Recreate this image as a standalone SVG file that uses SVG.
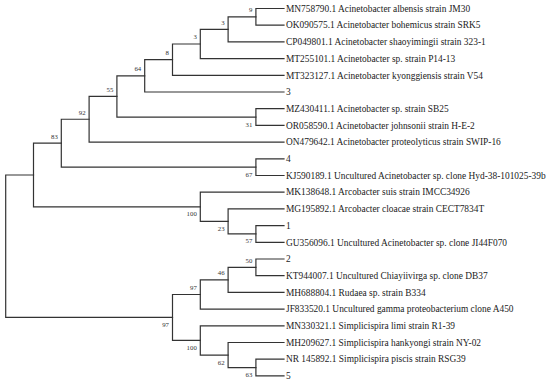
<svg xmlns="http://www.w3.org/2000/svg" width="550" height="384" viewBox="0 0 550 384">
<style>
.br{fill:none;stroke:#333;stroke-width:1.2;stroke-linecap:square}
.lf{font-family:"Liberation Serif","Times New Roman",serif;font-size:9.4px;fill:#222}
.bs{font-family:"Liberation Serif","Times New Roman",serif;font-size:6.8px;fill:#333;text-anchor:end}
</style>
<rect width="550" height="384" fill="#fff"/>
<g id="connectors" class="br">
<path d="M284 8.5 H255.9 V25.2 H284"/>
<path d="M255.9 16.85 H228.1 V41.9 H284"/>
<path d="M228.1 29.38 H200.3 V58.6 H284"/>
<path d="M200.3 43.99 H172.5 V75.3 H284"/>
<path d="M172.5 59.64 H144.7 V92 H284"/>
<path d="M284 108.7 H255.9 V125.4 H284"/>
<path d="M144.7 75.82 H116.9 V117.05 H255.9"/>
<path d="M116.9 96.44 H89.1 V142.1 H284"/>
<path d="M284 158.8 H255.9 V175.5 H284"/>
<path d="M89.1 119.27 H61.3 V167.15 H255.9"/>
<path d="M284 225.6 H255.9 V242.3 H284"/>
<path d="M284 208.9 H228.1 V233.95 H255.9"/>
<path d="M284 192.2 H200.3 V221.43 H228.1"/>
<path d="M61.3 143.21 H33.5 V206.81 H200.3"/>
<path d="M284 259 H255.9 V275.7 H284"/>
<path d="M255.9 267.35 H228.1 V292.4 H284"/>
<path d="M228.1 279.88 H200.3 V309.1 H284"/>
<path d="M284 359.2 H255.9 V375.9 H284"/>
<path d="M284 342.5 H228.1 V367.55 H255.9"/>
<path d="M284 325.8 H200.3 V355.03 H228.1"/>
<path d="M200.3 294.49 H172.5 V340.41 H200.3"/>
<path d="M33.5 175.01 H5.7 V317.45 H172.5"/>
</g>
<g id="leaf-MN758790"><text class="lf" x="286" y="11.7">MN758790.1 Acinetobacter albensis strain JM30</text></g>
<g id="leaf-OK090575"><text class="lf" x="286" y="28.4">OK090575.1 Acinetobacter bohemicus strain SRK5</text></g>
<g id="leaf-CP049801"><text class="lf" x="286" y="45.1">CP049801.1 Acinetobacter shaoyimingii strain 323-1</text></g>
<g id="leaf-MT255101"><text class="lf" x="286" y="61.8">MT255101.1 Acinetobacter sp. strain P14-13</text></g>
<g id="leaf-MT323127"><text class="lf" x="286" y="78.5">MT323127.1 Acinetobacter kyonggiensis strain V54</text></g>
<g id="leaf-3"><text class="lf" x="286" y="95.2">3</text></g>
<g id="leaf-MZ430411"><text class="lf" x="286" y="111.9">MZ430411.1 Acinetobacter sp. strain SB25</text></g>
<g id="leaf-OR058590"><text class="lf" x="286" y="128.6">OR058590.1 Acinetobacter johnsonii strain H-E-2</text></g>
<g id="leaf-ON479642"><text class="lf" x="286" y="145.3">ON479642.1 Acinetobacter proteolyticus strain SWIP-16</text></g>
<g id="leaf-4"><text class="lf" x="286" y="162">4</text></g>
<g id="leaf-KJ590189"><text class="lf" x="286" y="178.7">KJ590189.1 Uncultured Acinetobacter sp. clone Hyd-38-101025-39b</text></g>
<g id="leaf-MK138648"><text class="lf" x="286" y="195.4">MK138648.1 Arcobacter suis strain IMCC34926</text></g>
<g id="leaf-MG195892"><text class="lf" x="286" y="212.1">MG195892.1 Arcobacter cloacae strain CECT7834T</text></g>
<g id="leaf-1"><text class="lf" x="286" y="228.8">1</text></g>
<g id="leaf-GU356096"><text class="lf" x="286" y="245.5">GU356096.1 Uncultured Acinetobacter sp. clone JI44F070</text></g>
<g id="leaf-2"><text class="lf" x="286" y="262.2">2</text></g>
<g id="leaf-KT944007"><text class="lf" x="286" y="278.9">KT944007.1 Uncultured Chiayiivirga sp. clone DB37</text></g>
<g id="leaf-MH688804"><text class="lf" x="286" y="295.6">MH688804.1 Rudaea sp. strain B334</text></g>
<g id="leaf-JF833520"><text class="lf" x="286" y="312.3">JF833520.1 Uncultured gamma proteobacterium clone A450</text></g>
<g id="leaf-MN330321"><text class="lf" x="286" y="329">MN330321.1 Simplicispira limi strain R1-39</text></g>
<g id="leaf-MH209627"><text class="lf" x="286" y="345.7">MH209627.1 Simplicispira hankyongi strain NY-02</text></g>
<g id="leaf-NR145892"><text class="lf" x="286" y="362.4">NR 145892.1 Simplicispira piscis strain RSG39</text></g>
<g id="leaf-5"><text class="lf" x="286" y="379.1">5</text></g>
<g id="node-9"><text class="bs" x="252.4" y="12.15">9</text></g>
<g id="node-3a"><text class="bs" x="224.6" y="24.7">3</text></g>
<g id="node-3b"><text class="bs" x="196.8" y="39.3">3</text></g>
<g id="node-8"><text class="bs" x="169" y="54.9">8</text></g>
<g id="node-64"><text class="bs" x="141.2" y="71.1">64</text></g>
<g id="node-55"><text class="bs" x="113.4" y="91.7">55</text></g>
<g id="node-92"><text class="bs" x="85.6" y="114.6">92</text></g>
<g id="node-83"><text class="bs" x="57.8" y="138.5">83</text></g>
<g id="node-31"><text class="bs" x="252.4" y="126.55">31</text></g>
<g id="node-67"><text class="bs" x="252.4" y="176.65">67</text></g>
<g id="node-100a"><text class="bs" x="196.8" y="216.3">100</text></g>
<g id="node-23"><text class="bs" x="224.6" y="230.9">23</text></g>
<g id="node-57"><text class="bs" x="252.4" y="243.45">57</text></g>
<g id="node-50"><text class="bs" x="252.4" y="262.65">50</text></g>
<g id="node-46"><text class="bs" x="224.6" y="275.2">46</text></g>
<g id="node-97a"><text class="bs" x="196.8" y="289.8">97</text></g>
<g id="node-97b"><text class="bs" x="169" y="326.95">97</text></g>
<g id="node-100b"><text class="bs" x="196.8" y="349.9">100</text></g>
<g id="node-62"><text class="bs" x="224.6" y="364.5">62</text></g>
<g id="node-63"><text class="bs" x="252.4" y="377.05">63</text></g>
</svg>
